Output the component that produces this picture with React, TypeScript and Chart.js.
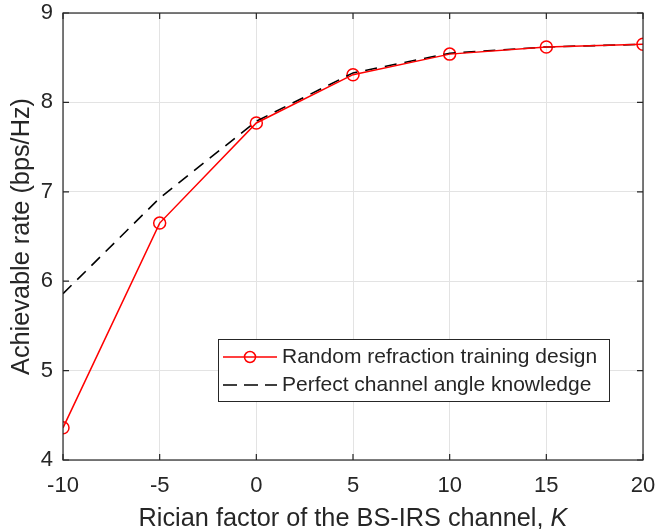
import React, { useEffect, useRef } from "react";
import { Chart, registerables } from "chart.js";

Chart.register(...registerables);

const kValues = [-10, -5, 0, 5, 10, 15, 20];
const randomRefraction = [4.36, 6.65, 7.77, 8.31, 8.54, 8.62, 8.65];
const perfectAngle = [5.86, 6.93, 7.79, 8.33, 8.55, 8.62, 8.65];
const legendLabels = ["Random refraction training design", "Perfect channel angle knowledge"];
const xTitle = "Rician factor of the BS-IRS channel, ";
const xTitleItalic = "K";
const yTitle = "Achievable rate (bps/Hz)";

const FONT = "'Liberation Sans', Arial, Helvetica, sans-serif";
const AXIS = "#262626";
const RED = "#ff0000";

export default function App() {
  const ref = useRef<HTMLCanvasElement | null>(null);
  useEffect(() => {
    document.body.style.margin = "0";
    const canvas = ref.current!;
    const decor = {
      id: "decor",
      afterDatasetsDraw(chart: any) {
        const { ctx, chartArea: a, scales } = chart;
        ctx.save();
        // box
        ctx.strokeStyle = AXIS;
        ctx.lineWidth = 1.2;
        ctx.strokeRect(a.left, a.top, a.right - a.left, a.bottom - a.top);
        // inner ticks
        const tl = 6;
        ctx.beginPath();
        for (const v of scales.x.ticks) {
          const px = scales.x.getPixelForValue(v.value);
          ctx.moveTo(px, a.bottom);
          ctx.lineTo(px, a.bottom - tl);
          ctx.moveTo(px, a.top);
          ctx.lineTo(px, a.top + tl);
        }
        for (const v of scales.y.ticks) {
          const py = scales.y.getPixelForValue(v.value);
          ctx.moveTo(a.left, py);
          ctx.lineTo(a.left + tl, py);
          ctx.moveTo(a.right, py);
          ctx.lineTo(a.right - tl, py);
        }
        ctx.stroke();
        // legend
        const lx = 218, ly = 339, lw = 391, lh = 62;
        ctx.fillStyle = "#ffffff";
        ctx.fillRect(lx, ly, lw, lh);
        ctx.strokeStyle = AXIS;
        ctx.lineWidth = 1;
        ctx.strokeRect(lx + 0.5, ly + 0.5, lw, lh);
        const rows = [357, 385];
        ctx.strokeStyle = RED;
        ctx.lineWidth = 1.5;
        ctx.beginPath();
        ctx.moveTo(223, rows[0]);
        ctx.lineTo(277, rows[0]);
        ctx.stroke();
        ctx.beginPath();
        ctx.arc(250, rows[0], 5.5, 0, Math.PI * 2);
        ctx.stroke();
        ctx.strokeStyle = "#000000";
        ctx.setLineDash([14, 7]);
        ctx.beginPath();
        ctx.moveTo(223, rows[1]);
        ctx.lineTo(277, rows[1]);
        ctx.stroke();
        ctx.setLineDash([]);
        ctx.fillStyle = AXIS;
        ctx.font = `21px ${FONT}`;
        ctx.textBaseline = "middle";
        ctx.textAlign = "left";
        ctx.fillText(legendLabels[0], 282, rows[0]);
        ctx.fillText(legendLabels[1], 282, rows[1]);
        // x title
        const tf = 25.3;
        ctx.textBaseline = "alphabetic";
        ctx.font = `${tf}px ${FONT}`;
        const w1 = ctx.measureText(xTitle).width;
        ctx.font = `italic ${tf}px ${FONT}`;
        const w2 = ctx.measureText(xTitleItalic).width;
        const cx = (a.left + a.right) / 2;
        const sx = cx - (w1 + w2) / 2;
        ctx.font = `${tf}px ${FONT}`;
        ctx.fillText(xTitle, sx, 526);
        ctx.font = `italic ${tf}px ${FONT}`;
        ctx.fillText(xTitleItalic, sx + w1, 526);
        // y title
        ctx.font = `${tf}px ${FONT}`;
        ctx.textBaseline = "middle";
        ctx.translate(22, (a.top + a.bottom) / 2);
        ctx.rotate(-Math.PI / 2);
        ctx.textAlign = "center";
        ctx.fillText(yTitle, 0, 0);
        ctx.restore();
      },
    };
    const chart = new Chart(canvas, {
      type: "line",
      data: {
        labels: kValues,
        datasets: [
          {
            data: kValues.map((x, i) => ({ x, y: randomRefraction[i] })),
            borderColor: RED,
            borderWidth: 1.5,
            pointRadius: 0,
            fill: false,
            tension: 0,
          },
          {
            data: kValues.map((x, i) => ({ x, y: perfectAngle[i] })),
            borderColor: "#000000",
            borderWidth: 1.6,
            borderDash: [12, 8],
            pointRadius: 0,
            fill: false,
            tension: 0,
          },
          {
            data: kValues.map((x, i) => ({ x, y: randomRefraction[i] })),
            showLine: false,
            pointRadius: 6,
            pointStyle: "circle",
            pointBorderColor: RED,
            pointBackgroundColor: "rgba(0,0,0,0)",
            pointBorderWidth: 1.5,
            borderColor: RED,
          },
        ],
      },
      options: {
        responsive: false,
        animation: false,
        events: [],
        layout: { padding: { left: 0, top: 13, right: 14, bottom: 0 } },
        plugins: { legend: { display: false }, tooltip: { enabled: false } },
        scales: {
          x: {
            type: "linear",
            min: -10,
            max: 20,
            ticks: { stepSize: 5, color: AXIS, font: { family: FONT, size: 22 }, padding: 13, maxRotation: 0 },
            grid: { color: "#e3e3e3", drawTicks: false },
            border: { display: false },
            afterFit: (s: any) => {
              s.height = 69;
              s.paddingLeft = 0;
              s.paddingRight = 0;
              s.paddingTop = 0;
              s.paddingBottom = 0;
            },
          },
          y: {
            type: "linear",
            min: 4,
            max: 9,
            ticks: { stepSize: 1, color: AXIS, font: { family: FONT, size: 22 }, padding: 10 },
            grid: { color: "#e3e3e3", drawTicks: false },
            border: { display: false },
            afterFit: (s: any) => {
              s.width = 63;
              s.paddingLeft = 0;
              s.paddingRight = 0;
              s.paddingTop = 0;
              s.paddingBottom = 0;
            },
          },
        },
      },
      plugins: [decor],
    });
    return () => chart.destroy();
  }, []);
  return (
    <div style={{ width: 657, height: 529 }}>
      <canvas ref={ref} width={657} height={529} />
    </div>
  );
}
